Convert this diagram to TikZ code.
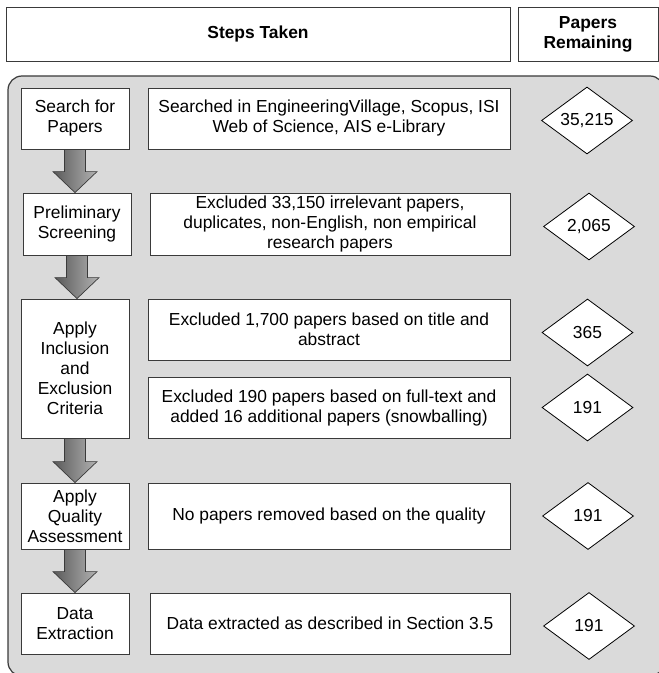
\documentclass[tikz,border=0pt]{standalone}
\usepackage{fontspec}
\setmainfont{Liberation Sans}
\usetikzlibrary{shapes.geometric,calc}

\definecolor{panelgray}{HTML}{DADADA}
\definecolor{linegray}{HTML}{3A3A3A}
\newcommand{\boxfont}{\fontsize{17.4bp}{20bp}\selectfont}

% fat shaded arrow from one step box down to the next
\newcommand{\stepArrow}[2]{%
  \draw[flowarrow] let \p1=(#1.south), \p2=(#2.north) in
    (\x1-10.5bp,\y1) -- (\x1+10.5bp,\y1) -- (\x1+10.5bp,\y2+21bp) -- (\x1+22bp,\y2+21bp)
    -- (\x1,\y2) -- (\x1-22bp,\y2+21bp) -- (\x1-10.5bp,\y2+21bp) -- cycle;}

\begin{document}
\begin{tikzpicture}[x=1bp, y=-1bp,
    stepbox/.style = {draw=linegray, fill=white, line width=0.8bp, align=center, inner sep=0pt, font=\boxfont},
    leftbox/.style = {stepbox, minimum width=108bp},
    textbox/.style = {stepbox, minimum width=362bp},
    countbox/.style = {diamond, draw=black, fill=white, line width=0.8bp, inner sep=0pt, aspect=1.4,
                       minimum width=91bp, minimum height=67bp, font=\boxfont},
    flowarrow/.style = {draw=linegray, line width=0.7bp, left color=black!65, right color=black!30}]
  \useasboundingbox (0,0) rectangle (659,673);

  % header row
  \node[stepbox, minimum width=504bp, minimum height=54bp] (stepshead) at (258,34) {\bfseries Steps Taken};
  \node[stepbox, minimum width=140bp, minimum height=54bp] (papershead) at (588,34) {\bfseries Papers\\\bfseries Remaining};

  % grey panel
  \draw[fill=panelgray, draw=linegray, line width=1.2bp, rounded corners=14bp] (8,76) rectangle (664,676);

  % steps
  \node[leftbox, minimum height=61bp] (search) at (75,118.5) {Search for\\Papers};
  \node[leftbox, minimum height=62bp] (prelim) at (77,224) {Preliminary\\Screening};
  \node[leftbox, minimum height=139bp] (incl) at (75,368.5) {Apply\\Inclusion\\and\\Exclusion\\Criteria};
  \node[leftbox, minimum height=66bp] (quality) at (75,516) {Apply\\Quality\\Assessment};
  \node[leftbox, minimum height=61bp] (extract) at (75,623.5) {Data\\Extraction};

  % what was done
  \node[textbox, minimum height=61bp] (searchtxt) at (329,118.5) {Searched in EngineeringVillage, Scopus, ISI\\Web of Science, AIS e-Library};
  \node[textbox, minimum width=360bp, minimum height=62bp] (prelimtxt) at (330,224) {Excluded 33,150 irrelevant papers,\\duplicates, non-English, non empirical\\research papers};
  \node[textbox, minimum height=61bp] (titletxt) at (329,329.5) {Excluded 1,700 papers based on title and\\abstract};
  \node[textbox, minimum height=61bp] (fulltxt) at (329,407.5) {Excluded 190 papers based on full-text and\\added 16 additional papers (snowballing)};
  \node[textbox, minimum height=66bp] (qualitytxt) at (329,516) {No papers removed based on the quality};
  \node[textbox, minimum width=360bp, minimum height=61bp] (extracttxt) at (330,623.5) {Data extracted as described in Section 3.5};

  % papers remaining
  \node[countbox] (n1) at (587,120.5) {35,215};
  \node[countbox] (n2) at (589,226.5) {2,065};
  \node[countbox] (n3) at (587.5,332.5) {365};
  \node[countbox] (n4) at (587.5,407.5) {191};
  \node[countbox] (n5) at (588,516) {191};
  \node[countbox] (n6) at (589,626) {191};

  \stepArrow{search}{prelim}
  \stepArrow{prelim}{incl}
  \stepArrow{incl}{quality}
  \stepArrow{quality}{extract}
\end{tikzpicture}
\end{document}
